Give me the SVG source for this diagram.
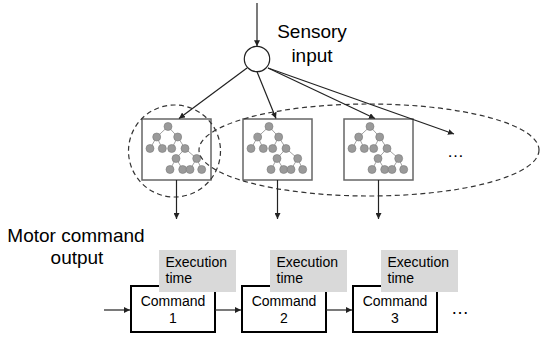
<svg xmlns="http://www.w3.org/2000/svg" xmlns:xlink="http://www.w3.org/1999/xlink" width="540" height="341" viewBox="0 0 540 341">
<style>
.lbl{font-family:"Liberation Sans",Arial,sans-serif;fill:#000}
.big{font-size:19px}
.sm{font-size:14px}
.tbox{fill:#fff;stroke:#666;stroke-width:1.5}
.cbox{fill:#fff;stroke:#000;stroke-width:2}
.exec{fill:#d9d9d9;stroke:none}
.dash{fill:none;stroke:#333;stroke-width:1.2;stroke-dasharray:5,3.5}
.conn{fill:none;stroke:#222;stroke-width:1.2}
.tedge{stroke:#8a8a8a;stroke-width:0.8;fill:none}
.tnode{fill:#9a9a9a;stroke:#7a7a7a;stroke-width:0.6}
</style>
<defs>
<marker id="ah" viewBox="0 0 6 6" refX="6" refY="3" markerWidth="6" markerHeight="6" markerUnits="userSpaceOnUse" orient="auto">
<path d="M0,0 L6,3 L0,6 z" fill="#222"/>
</marker>
<g id="tree">
<path class="tedge" d="M26,7.5 L14.7,18 M26,7.5 L35.7,18 M14.7,18 L8,29.5 M14.7,18 L20.3,29.5 M35.7,18 L29.7,29.5 M35.7,18 L43,29.5 M43,29.5 L34,39.5 M43,29.5 L54.7,39.5 M34,39.5 L28,50.5 M34,39.5 L40.7,50.5 M54.7,39.5 L48,50.5 M54.7,39.5 L59.7,50.5"/>
<g class="tnode">
<circle cx="26" cy="7.5" r="4"/>
<circle cx="14.7" cy="18" r="4"/>
<circle cx="35.7" cy="18" r="4"/>
<circle cx="8" cy="29.5" r="4"/>
<circle cx="20.3" cy="29.5" r="4"/>
<circle cx="29.7" cy="29.5" r="4"/>
<circle cx="43" cy="29.5" r="4"/>
<circle cx="34" cy="39.5" r="4"/>
<circle cx="54.7" cy="39.5" r="4"/>
<circle cx="28" cy="50.5" r="4"/>
<circle cx="40.7" cy="50.5" r="4"/>
<circle cx="48" cy="50.5" r="4"/>
<circle cx="59.7" cy="50.5" r="4"/>
</g>
</g>
</defs>
<rect width="540" height="341" fill="#fff"/>

<g id="sensory-input">
<circle cx="257" cy="59" r="12.7" fill="#fff" stroke="#222" stroke-width="1.2"/>
<text class="lbl big" x="312" y="38" text-anchor="middle">Sensory</text>
<text class="lbl big" x="312" y="61.5" text-anchor="middle">input</text>
</g>

<g id="module-1">
<rect class="tbox" x="142" y="119" width="69" height="61"/>
<use xlink:href="#tree" href="#tree" transform="translate(142,119)"/>
</g>
<g id="module-2">
<rect class="tbox" x="243" y="119" width="69" height="61"/>
<use xlink:href="#tree" href="#tree" transform="translate(243,119)"/>
</g>
<g id="module-3">
<rect class="tbox" x="344" y="119" width="69" height="61"/>
<use xlink:href="#tree" href="#tree" transform="translate(344,119)"/>
</g>

<g id="selected-group">
<circle class="dash" cx="174.5" cy="151" r="46"/>
</g>
<g id="candidate-group">
<ellipse class="dash" cx="369" cy="150" rx="170" ry="46"/>
<text class="lbl" x="447" y="157" font-size="17">…</text>
</g>

<g id="motor-label">
<text class="lbl big" x="76" y="242" text-anchor="middle">Motor command</text>
<text class="lbl big" x="77" y="264" text-anchor="middle">output</text>
</g>

<g id="command-1">
<rect class="cbox" x="131" y="286" width="84" height="46"/>
<text class="lbl sm" x="173" y="305.5" text-anchor="middle">Command</text>
<text class="lbl sm" x="173" y="323" text-anchor="middle">1</text>
<rect class="exec" x="159" y="250" width="77" height="42"/>
<text class="lbl sm" x="165.5" y="266.5">Execution</text>
<text class="lbl sm" x="165.5" y="283">time</text>
</g>
<g id="command-2">
<rect class="cbox" x="242" y="286" width="84" height="46"/>
<text class="lbl sm" x="284" y="305.5" text-anchor="middle">Command</text>
<text class="lbl sm" x="284" y="323" text-anchor="middle">2</text>
<rect class="exec" x="270" y="250" width="77" height="42"/>
<text class="lbl sm" x="276.5" y="266.5">Execution</text>
<text class="lbl sm" x="276.5" y="283">time</text>
</g>
<g id="command-3">
<rect class="cbox" x="353" y="286" width="84" height="46"/>
<text class="lbl sm" x="395" y="305.5" text-anchor="middle">Command</text>
<text class="lbl sm" x="395" y="323" text-anchor="middle">3</text>
<rect class="exec" x="381" y="250" width="77" height="42"/>
<text class="lbl sm" x="387.5" y="266.5">Execution</text>
<text class="lbl sm" x="387.5" y="283">time</text>
<text class="lbl" x="451" y="314" font-size="18">…</text>
</g>

<g id="connectors">
<line class="conn" x1="257" y1="3" x2="257" y2="46.3" marker-end="url(#ah)"/>
<line class="conn" x1="247" y1="68" x2="179" y2="118.5" marker-end="url(#ah)"/>
<line class="conn" x1="257" y1="71.7" x2="276" y2="118.5" marker-end="url(#ah)"/>
<line class="conn" x1="268" y1="68" x2="375" y2="118.5" marker-end="url(#ah)"/>
<line class="conn" x1="268" y1="68" x2="454" y2="134" marker-end="url(#ah)"/>
<line class="conn" x1="176.5" y1="180" x2="176.5" y2="219" marker-end="url(#ah)"/>
<line class="conn" x1="277.5" y1="180" x2="277.5" y2="219" marker-end="url(#ah)"/>
<line class="conn" x1="378.5" y1="180" x2="378.5" y2="219" marker-end="url(#ah)"/>
<line class="conn" x1="104" y1="310" x2="130" y2="310" marker-end="url(#ah)"/>
<line class="conn" x1="215" y1="310" x2="241" y2="310" marker-end="url(#ah)"/>
<line class="conn" x1="326" y1="310" x2="352" y2="310" marker-end="url(#ah)"/>
</g>
</svg>
